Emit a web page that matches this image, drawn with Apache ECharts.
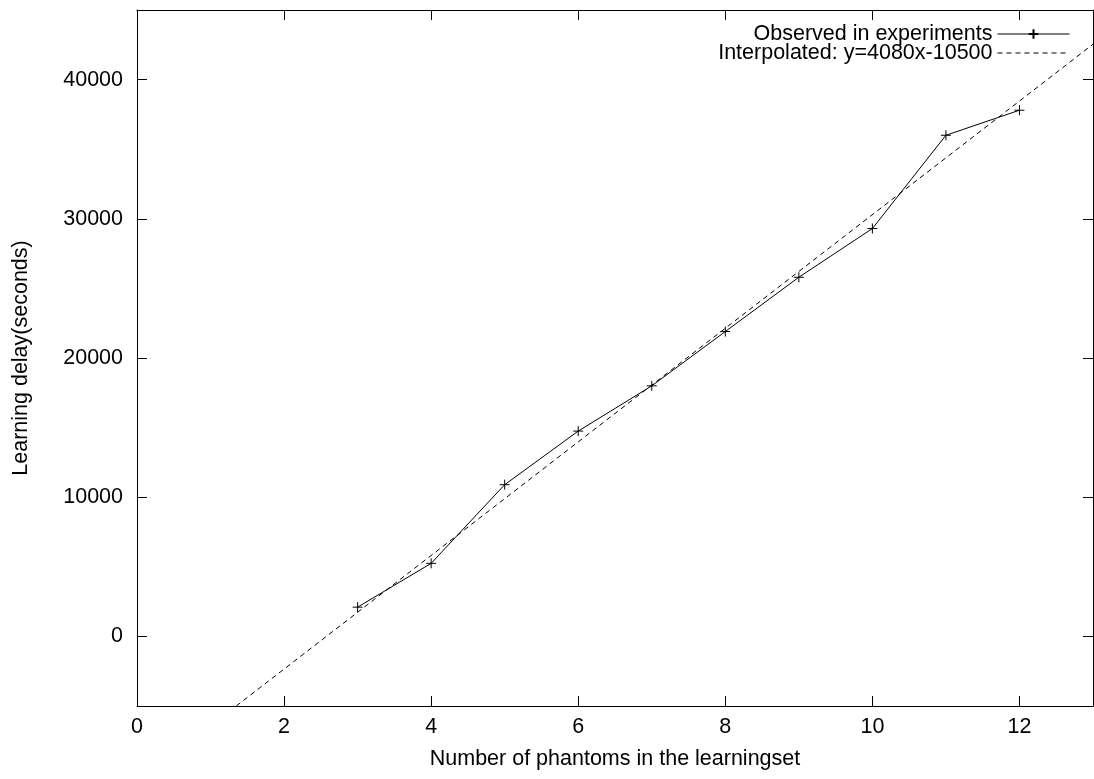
<!DOCTYPE html>
<html><head><meta charset="utf-8">
<script src="https://cdn.jsdelivr.net/npm/echarts@6/dist/echarts.min.js"></script>
<style>html,body{margin:0;padding:0;background:#fff}#c{width:1094px;height:779px}</style>
</head><body><div id="c"></div>
<script>
const phantoms = [3, 4, 5, 6, 7, 8, 9, 10, 11, 12];
const delays = [2100, 5250, 10900, 14750, 18000, 21900, 25800, 29300, 36000, 37800];
const fitLine = [[1.35, -5000], [13, 42540]];
const xTicks = [0, 2, 4, 6, 8, 10, 12];
const yTicks = [0, 10000, 20000, 30000, 40000];
const observedName = 'Observed in experiments';
const fitName = 'Interpolated: y=4080x-10500';

const font = 'Liberation Sans, Arial, Helvetica, sans-serif';
const fs = 21.5;
const plus = 'path://M0,-5L0,5M-5,0L5,0';
const chart = echarts.init(document.getElementById('c'), null, {renderer: 'canvas'});
const axLine = {show: true, onZero: false, lineStyle: {color: '#000', width: 1}};
const tick = (vals) => ({show: true, inside: true, length: 10, customValues: vals, lineStyle: {color: '#000', width: 1}});
const legendText = {fontFamily: font, fontSize: fs, color: '#000', lineHeight: 20};
chart.setOption({
  animation: false,
  backgroundColor: '#fff',
  grid: {left: 137, right: 1, top: 10, bottom: 73, containLabel: false},
  legend: [
    {data: [{name: observedName}], right: 24, top: 23, padding: 0, align: 'right', itemWidth: 72, itemHeight: 12, itemGap: 0,
     lineStyle: {width: 1}, textStyle: legendText, selectedMode: false},
    {data: [{name: fitName, itemStyle: {color: 'rgba(0,0,0,0)', borderColor: 'rgba(0,0,0,0)', borderWidth: 0}}],
     right: 24, top: 42, padding: 0, align: 'right', itemWidth: 72, itemHeight: 12, itemGap: 0,
     lineStyle: {width: 1}, textStyle: legendText, selectedMode: false}
  ],
  xAxis: [
    {type: 'value', min: 0, max: 13, position: 'bottom',
     name: 'Number of phantoms in the learningset', nameLocation: 'middle', nameGap: 42,
     nameTextStyle: {fontFamily: font, fontSize: fs, color: '#000'},
     axisLine: axLine, axisTick: tick(xTicks), splitLine: {show: false},
     axisLabel: {customValues: xTicks, margin: 10, fontFamily: font, fontSize: fs, color: '#000'}},
    {type: 'value', min: 0, max: 13, position: 'top',
     axisLine: axLine, axisTick: tick(xTicks), splitLine: {show: false}, axisLabel: {show: false}}
  ],
  yAxis: [
    {type: 'value', min: -5000, max: 45000, position: 'left',
     name: 'Learning delay(seconds)', nameLocation: 'middle', nameGap: 105, nameRotate: 90,
     nameTextStyle: {fontFamily: font, fontSize: fs, color: '#000'},
     axisLine: axLine, axisTick: tick(yTicks), splitLine: {show: false},
     axisLabel: {customValues: yTicks, margin: 14, fontFamily: font, fontSize: fs, color: '#000',
                 formatter: v => String(v)}},
    {type: 'value', min: -5000, max: 45000, position: 'right',
     axisLine: axLine, axisTick: tick(yTicks), splitLine: {show: false}, axisLabel: {show: false}}
  ],
  series: [
    {name: observedName, type: 'line', data: phantoms.map((x, i) => [x, delays[i]]),
     symbol: plus, symbolSize: 10, showSymbol: true,
     lineStyle: {color: '#000', width: 1},
     itemStyle: {color: '#000', borderColor: '#000', borderWidth: 1},
     z: 3},
    {name: fitName, type: 'line', data: fitLine, symbol: 'none', clip: true,
     lineStyle: {color: '#000', width: 1, type: [5, 4]},
     itemStyle: {color: '#000'}, z: 2}
  ]
});
</script></body></html>
